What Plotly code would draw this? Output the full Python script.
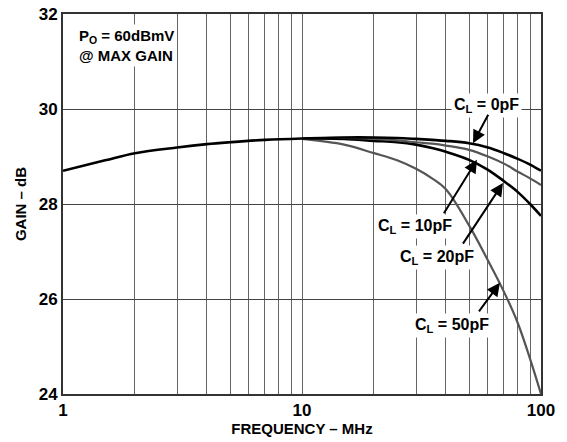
import plotly.graph_objects as go

freq_common = [1, 1.5, 2, 3, 4, 5, 7, 10]
gain_common = [28.70, 28.92, 29.07, 29.19, 29.26, 29.30, 29.35, 29.38]

freq_hi = [10, 15, 20, 25, 30, 35, 40, 50, 60, 70, 80, 90, 100]
gain_0pF = [29.38, 29.40, 29.40, 29.39, 29.37, 29.35, 29.33, 29.28, 29.19, 29.07, 28.95, 28.83, 28.70]
gain_10pF = [29.38, 29.39, 29.37, 29.34, 29.30, 29.27, 29.23, 29.14, 29.00, 28.85, 28.68, 28.54, 28.40]
gain_20pF = [29.38, 29.37, 29.33, 29.30, 29.25, 29.18, 29.10, 28.93, 28.72, 28.48, 28.25, 28.00, 27.75]
gain_50pF = [29.37, 29.25, 29.07, 28.92, 28.74, 28.54, 28.31, 27.55, 26.81, 26.15, 25.49, 24.74, 24.00]

series = [
    ("C_L = 50pF", gain_50pF, "#555555", 2.2),
    ("C_L = 20pF", gain_20pF, "#000000", 2.6),
    ("C_L = 10pF", gain_10pF, "#555555", 2.2),
    ("C_L = 0pF", gain_0pF, "#000000", 2.6),
]

x_tickvals = [1, 10, 100]
x_ticktext = ["1", "10", "100"]
x_minor = [v * m for m in (1, 10) for v in range(2, 10)]
y_tickvals = [24, 26, 28, 30, 32]

fig = go.Figure()
fig.add_trace(go.Scatter(x=freq_common, y=gain_common, mode="lines",
                         line=dict(color="#000000", width=2.6, shape="spline"),
                         showlegend=False))
for name, g, c, w in series:
    fig.add_trace(go.Scatter(x=freq_hi, y=g, mode="lines", name=name,
                             line=dict(color=c, width=w, shape="spline"),
                             showlegend=False))

fam = "Liberation Sans, Arial, sans-serif"
tick_font = dict(family=fam, size=17, color="#000000", weight="bold")
title_font = dict(family=fam, size=15, color="#000000", weight="bold")

fig.update_layout(
    width=567, height=442,
    margin=dict(l=63, r=26, t=14, b=48, autoexpand=False),
    paper_bgcolor="white", plot_bgcolor="white",
    font=tick_font,
    xaxis=dict(type="log", range=[0, 2], tickvals=x_tickvals, ticktext=x_ticktext,
               showgrid=True, gridcolor="#666666", gridwidth=1,
               minor=dict(tickvals=x_minor, showgrid=True, gridcolor="#666666", gridwidth=1, ticks=""),
               showline=True, linecolor="#333333", linewidth=2, mirror=True,
               ticks="", zeroline=False, automargin=False,
               title=dict(text="FREQUENCY – MHz", font=title_font, standoff=0),
               tickfont=tick_font),
    yaxis=dict(range=[24, 32], tickvals=y_tickvals,
               showgrid=True, gridcolor="#444444", gridwidth=1.3,
               showline=True, linecolor="#333333", linewidth=2, mirror=True,
               ticks="", zeroline=False, automargin=False,
               title=dict(text="GAIN – dB", font=title_font, standoff=8),
               tickfont=tick_font),
)

# Text labels (white boxes)
label_font = dict(family=fam, size=16, color="#000000", weight="bold")
labels = [
    ("C<sub>L</sub> = 0pF", 1.774, 30.08),
    ("C<sub>L</sub> = 10pF", 1.473, 27.52),
    ("C<sub>L</sub> = 20pF", 1.565, 26.88),
    ("C<sub>L</sub> = 50pF", 1.628, 25.45),
]
for t, x, y in labels:
    fig.add_annotation(x=x, y=y, xref="x", yref="y", text=t, showarrow=False,
                       font=label_font, bgcolor="white", borderpad=2)

arrows = [
    (1.7155, 29.28, 16, -30),
    (1.732, 28.93, -34, 55),
    (1.841, 28.44, -41, 62),
    (1.828, 26.34, -22, 30),
]
for x, y, ax, ay in arrows:
    fig.add_annotation(x=x, y=y, xref="x", yref="y", text="", showarrow=True,
                       ax=ax, ay=ay, arrowhead=2, arrowsize=1.3, arrowwidth=2,
                       arrowcolor="#000000", standoff=0)

fig.add_annotation(x=0.028, y=0.975, xref="paper", yref="paper", xanchor="left", yanchor="top",
                   text="P<sub>O</sub> = 60dBmV<br>@ MAX GAIN", align="left", showarrow=False,
                   font=dict(family=fam, size=15, color="#000000", weight="bold"),
                   bgcolor="white", borderpad=2)

fig.write_html("out.html", config={"displayModeBar": False},
               post_script="document.body.style.margin='0px';document.body.style.overflow='hidden';")
